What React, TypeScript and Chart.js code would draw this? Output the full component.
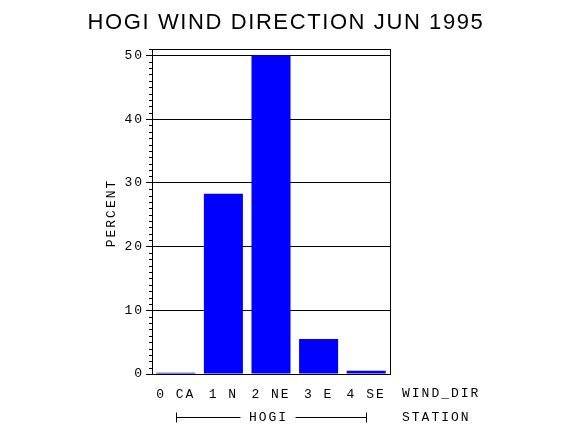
import { useEffect, useRef } from "react"
import { Chart, registerables } from "chart.js"

Chart.register(...registerables)

const windDir = ["0 CA", "1 N", "2 NE", "3 E", "4 SE"]
const percent = [0.2, 28.3, 50.0, 5.5, 0.5]
const stationName = "HOGI"
const chartTitle = "HOGI WIND DIRECTION JUN 1995"
const xName = "WIND_DIR"
const groupName = "STATION"
const yName = "PERCENT"

const MONO = "'Liberation Mono', monospace"
const SANS = "'Liberation Sans', Arial, sans-serif"

// extra text, minor ticks, frame and the station bracket
const decorations = {
  id: "decorations",
  beforeDraw(chart: Chart) {
    ;(chart.ctx as any).letterSpacing = "2px"
  },
  afterDraw(chart: Chart) {
    const ctx = chart.ctx
    const { left, right, top, bottom } = chart.chartArea
    const y = chart.scales.y
    const x = chart.scales.x
    ctx.save()
    ctx.strokeStyle = "#000"
    ctx.fillStyle = "#000"
    ctx.lineWidth = 1

    // frame
    ctx.strokeRect(Math.round(left) + 0.5, Math.round(top) + 0.5, Math.round(right - left), Math.round(bottom - top))

    // minor ticks
    ctx.beginPath()
    for (let v = 1; v <= 51; v++) {
      if (v % 10 === 0) continue
      const py = Math.round(y.getPixelForValue(v)) + 0.5
      ctx.moveTo(left - 3, py)
      ctx.lineTo(left, py)
    }
    ctx.stroke()

    // title
    ;(ctx as any).letterSpacing = "1.6px"
    ctx.font = `22px ${SANS}`
    ctx.textAlign = "center"
    ctx.textBaseline = "middle"
    ctx.fillText(chartTitle, 286, 23)

    ;(ctx as any).letterSpacing = "2px"
    ctx.font = `13px ${MONO}`
    ctx.textAlign = "left"
    ctx.fillText(xName, right + 12, 394)
    ctx.fillText(groupName, right + 12, 418)

    // station bracket
    const x0 = Math.round(x.getPixelForValue(0)) + 0.5
    const x1 = Math.round(x.getPixelForValue(windDir.length - 1)) + 0.5
    const mid = (x0 + x1) / 2 - 4
    const by = 417.5
    ctx.textAlign = "center"
    ctx.fillText(stationName, mid + 1, 418)
    ctx.beginPath()
    ctx.moveTo(x0, by - 5)
    ctx.lineTo(x0, by + 5)
    ctx.moveTo(x0, by)
    ctx.lineTo(mid - 27, by)
    ctx.moveTo(mid + 28, by)
    ctx.lineTo(x1, by)
    ctx.moveTo(x1, by - 5)
    ctx.lineTo(x1, by + 5)
    ctx.stroke()

    // y title
    ctx.translate(112, 213)
    ctx.rotate(-Math.PI / 2)
    ctx.fillText(yName, 0, 0)
    ctx.restore()
  },
}

export default function App() {
  const chartRef = useRef<HTMLCanvasElement>(null)
  const chartInstance = useRef<Chart | null>(null)

  useEffect(() => {
    document.body.style.margin = "0"
    if (!chartRef.current) return
    if (chartInstance.current) {
      chartInstance.current.destroy()
    }
    const ctx = chartRef.current.getContext("2d")
    if (!ctx) return

    chartInstance.current = new Chart(ctx, {
      type: "bar",
      data: {
        labels: windDir,
        datasets: [
          {
            data: percent,
            backgroundColor: "#0000ff",
            borderWidth: 0,
            barPercentage: 0.82,
            categoryPercentage: 1,
          },
        ],
      },
      options: {
        responsive: true,
        maintainAspectRatio: false,
        animation: false,
        layout: { padding: { left: 112, right: 180, top: 49, bottom: 0 } },
        plugins: {
          legend: { display: false },
          title: { display: false },
          tooltip: { enabled: false },
        },
        scales: {
          x: {
            grid: { display: false, drawTicks: false },
            border: { display: true, color: "#000", width: 1 },
            ticks: {
              color: "#000",
              font: { family: MONO, size: 13 },
              padding: 13,
              maxRotation: 0,
              autoSkip: false,
            },
            afterFit: (scale: any) => {
              scale.height = 56
            },
          },
          y: {
            min: 0,
            max: 51,
            z: 1,
            grid: { color: "#000", lineWidth: 1, tickLength: 6, drawTicks: true },
            border: { display: true, color: "#000", width: 1 },
            ticks: {
              stepSize: 10,
              includeBounds: false,
              color: "#000",
              font: { family: MONO, size: 13 },
              padding: 2,
            },
            afterFit: (scale: any) => {
              scale.width = 40
            },
          },
        },
      },
      plugins: [decorations],
    })

    return () => {
      if (chartInstance.current) {
        chartInstance.current.destroy()
        chartInstance.current = null
      }
    }
  }, [])

  return (
    <div style={{ width: 570, height: 430, position: "relative" }}>
      <canvas ref={chartRef} />
    </div>
  )
}
